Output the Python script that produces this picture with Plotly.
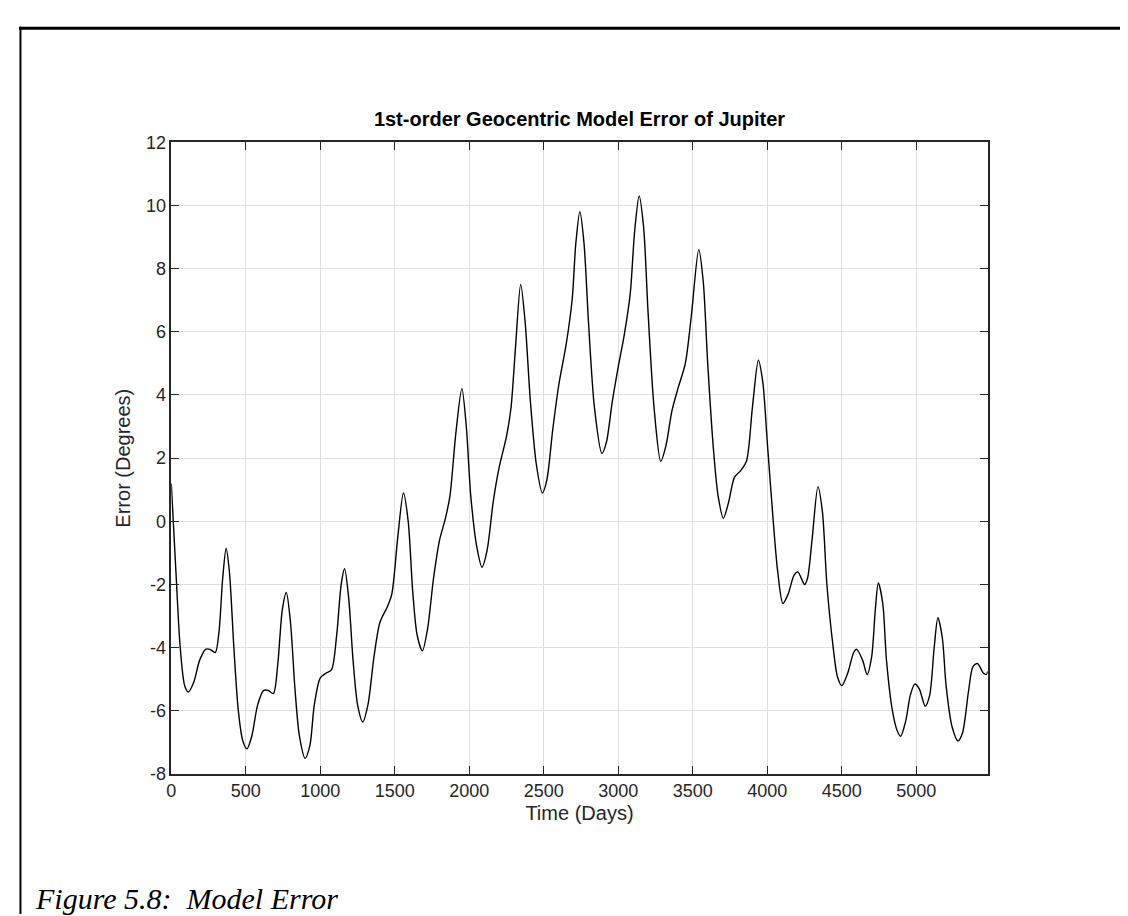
import plotly.graph_objects as go

# Values (day, error in degrees)
days = [0, 30, 60, 90, 115, 150, 190, 230, 260, 295, 320, 345, 368, 390, 420, 450, 480, 508,
        540, 580, 620, 650, 685, 715, 745, 772, 800, 830, 860, 898, 930, 960, 1000, 1040,
        1075, 1110, 1140, 1163, 1190, 1220, 1250, 1285, 1320, 1360, 1400, 1450, 1480, 1520,
        1558, 1590, 1620, 1650, 1685, 1720, 1760, 1800, 1840, 1870, 1910, 1950, 1980, 2010,
        2050, 2085, 2120, 2160, 2200, 2250, 2280, 2310, 2345, 2375, 2410, 2450, 2490, 2520,
        2560, 2600, 2650, 2690, 2715, 2742, 2770, 2800, 2840, 2890, 2920, 2960, 3000, 3040,
        3080, 3110, 3140, 3170, 3200, 3240, 3285, 3320, 3360, 3400, 3450, 3490, 3540, 3570,
        3600, 3640, 3670, 3705, 3740, 3780, 3820, 3860, 3900, 3940, 3970, 4000, 4040, 4070,
        4105, 4140, 4180, 4205, 4250, 4270, 4300, 4340, 4370, 4400, 4440, 4470, 4500, 4540,
        4580, 4600, 4640, 4670, 4700, 4725, 4745, 4775, 4800, 4840, 4870, 4895, 4930, 4960,
        4990, 5020, 5060, 5090, 5120, 5145, 5175, 5200, 5240, 5280, 5310, 5350, 5380, 5410,
        5450, 5470, 5479]
error_deg = [1.2, -1.5, -4.0, -5.2, -5.4, -5.1, -4.4, -4.05, -4.05, -4.15, -3.5, -1.8, -0.85,
             -1.6, -4.0, -6.0, -6.95, -7.2, -6.8, -5.8, -5.35, -5.35, -5.45, -4.5, -2.8, -2.25,
             -3.2, -5.3, -6.8, -7.5, -7.1, -5.8, -4.95, -4.8, -4.7, -3.6, -2.0, -1.5, -2.4,
             -4.4, -5.8, -6.35, -5.8, -4.3, -3.2, -2.7, -2.3, -0.5, 0.9, 0.0, -2.2, -3.6, -4.1,
             -3.4, -1.8, -0.6, 0.1, 0.8, 2.8, 4.2, 3.0, 0.8, -0.8, -1.45, -0.9, 0.6, 1.7, 2.7,
             3.6, 5.5, 7.5, 6.3, 3.8, 1.8, 0.9, 1.3, 2.9, 4.3, 5.6, 7.0, 8.8, 9.8, 8.8, 6.3,
             3.6, 2.15, 2.5, 3.8, 4.9, 5.9, 7.2, 9.2, 10.3, 9.3, 6.6, 3.6, 1.9, 2.4, 3.5, 4.2,
             5.0, 6.5, 8.6, 7.6, 5.0, 2.2, 0.8, 0.1, 0.6, 1.4, 1.6, 1.9, 3.6, 5.1, 4.4, 2.5,
             0.0, -1.6, -2.6, -2.3, -1.7, -1.6, -2.0, -1.8, -0.6, 1.1, 0.3, -2.0, -3.9, -4.9,
             -5.2, -4.8, -4.15, -4.05, -4.4, -4.85, -4.3, -2.8, -1.95, -2.6, -4.4, -6.0, -6.6,
             -6.8, -6.3, -5.5, -5.15, -5.3, -5.85, -5.5, -4.0, -3.05, -3.7, -5.2, -6.5, -6.95,
             -6.7, -5.4, -4.6, -4.5, -4.8, -4.85, -4.75]

x_ticks = [0, 500, 1000, 1500, 2000, 2500, 3000, 3500, 4000, 4500, 5000]
x_tick_labels = ["0", "500", "1000", "1500", "2000", "2500", "3000", "3500", "4000", "4500", "5000"]
y_ticks = [-8, -6, -4, -2, 0, 2, 4, 6, 8, 10, 12]
y_tick_labels = ["-8", "-6", "-4", "-2", "0", "2", "4", "6", "8", "10", "12"]

W, H = 1128, 916
L, R, T, B = 159, 979, 127, 773
AX = "#262626"
SANS = "Liberation Sans, Arial, sans-serif"

fig = go.Figure()
fig.add_trace(go.Scatter(
    x=days, y=error_deg, mode="lines",
    line=dict(color="black", width=1.4, shape="spline", smoothing=0.8),
    showlegend=False, hoverinfo="x+y"))

axis_common = dict(
    showline=True, linecolor=AX, linewidth=1.5, mirror="ticks",
    ticks="inside", ticklen=8, tickcolor=AX, tickwidth=1.3,
    showgrid=True, gridcolor="#dfdfdf", gridwidth=1, zeroline=False,
    tickfont=dict(family=SANS, size=18, color=AX),
)

fig.update_layout(
    width=W, height=H,
    margin=dict(l=0, r=0, t=0, b=0),
    paper_bgcolor="white", plot_bgcolor="white",
    xaxis=dict(axis_common, range=[0, 5479], tickvals=x_ticks, ticktext=x_tick_labels,
               domain=[L / W, R / W],
               title=dict(text="Time (Days)", standoff=6,
                          font=dict(family=SANS, size=20, color=AX))),
    yaxis=dict(axis_common, range=[-8, 12], tickvals=y_ticks, ticktext=y_tick_labels,
               domain=[(H - B) / H, (H - T) / H],
               title=dict(text="Error (Degrees)", standoff=10,
                          font=dict(family=SANS, size=20, color=AX))),
    title=dict(text="<b>1st-order Geocentric Model Error of Jupiter</b>",
               x=(L + R) / 2 / W, xanchor="center", y=1 - 111 / H, yanchor="middle",
               xref="paper", yref="container",
               font=dict(family=SANS, size=20, color="black")),
    annotations=[dict(text="<i>Figure 5.8:\u00a0 Model Error</i>", x=20 / W, y=1 - 900 / H,
                      xref="paper", yref="paper", xanchor="left", yanchor="middle",
                      showarrow=False,
                      font=dict(family="Liberation Serif, Times New Roman, serif", size=30, color="black"))],
    shapes=[
        dict(type="line", xref="paper", yref="paper", x0=6 / W, x1=1.0, y0=1 - 10.5 / H, y1=1 - 10.5 / H,
             line=dict(color="black", width=3)),
        dict(type="line", xref="paper", yref="paper", x0=7.5 / W, x1=7.5 / W, y0=1 - 9 / H, y1=0,
             line=dict(color="black", width=2)),
    ],
)

fig.write_html("out.html")
